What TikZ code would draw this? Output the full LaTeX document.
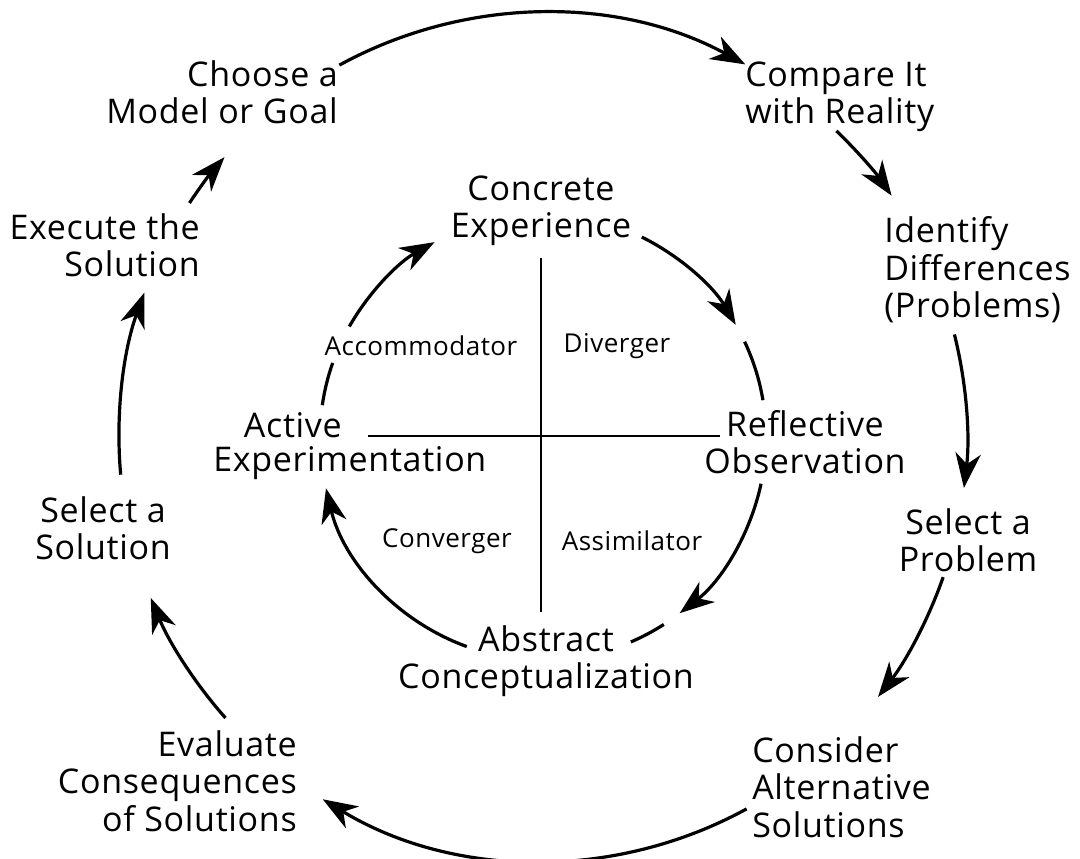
\documentclass[tikz,border=0pt]{standalone}
\usepackage{fontspec}
\setmainfont{Open Sans}[LetterSpace=2]
\usetikzlibrary{arrows.meta}
\begin{document}
\begin{tikzpicture}[x=0.75pt,y=0.75pt,
  stage/.style={inner sep=0pt, font=\fontsize{25.5}{28}\selectfont},
  quad/.style={inner sep=0pt, font=\fontsize{19.5}{22}\selectfont},
  flow/.style={line width=2.4pt, -{Stealth[length=26pt,width=19pt,inset=8pt]}},
  plain/.style={line width=2.4pt},
  axis/.style={line width=2pt}]
\useasboundingbox (0,0) rectangle (1080,-859);

% centre shared by the two cycles
\coordinate (O) at (543,-437);

% outer problem-solving cycle
\node[stage, align=right, anchor=east] (choose)   at (338,-92)  {Choose a\\Model or Goal};
\node[stage, align=left,  anchor=west] (compare)  at (745,-97)  {Compare It\\with Reality};
\node[stage, align=left,  anchor=west] (identify) at (884,-270) {Identify\\Differences\\(Problems)};
\node[stage, align=center]             (selprob)  at (968,-540) {Select a\\Problem};
\node[stage, align=left,  anchor=west] (consider) at (752,-787) {Consider\\Alternative\\Solutions};
\node[stage, align=right, anchor=east] (evaluate) at (297,-781) {Evaluate\\Consequences\\of Solutions};
\node[stage, align=center]             (selsol)   at (103,-528) {Select a\\Solution};
\node[stage, align=right, anchor=east] (execute)  at (200,-245) {Execute the\\Solution};

% inner learning cycle
\node[stage, align=center] (concrete)   at (541,-211) {Concrete\\Experience};
\node[stage, align=center] (reflective) at (805,-442) {Reflective\\Observation};
\node[stage, align=center] (abstract)   at (546,-661) {Abstract\\Conceptualization};
\node[stage, anchor=west] (active) at (213,-447)
  {\begin{tabular}{@{}l@{}}\hspace*{23pt}Active\\[-2pt]Experimentation\end{tabular}};

% learning styles
\node[quad] (accom) at (421,-346) {Accommodator};
\node[quad] (diver) at (617,-346) {Diverger};
\node[quad] (conve) at (447,-541) {Converger};
\node[quad] (assim) at (632,-541) {Assimilator};

% quadrant axes
\coordinate (vtop) at (541,-258);
\coordinate (vbot) at (541,-612);
\coordinate (hlft) at (368,-436);
\coordinate (hrgt) at (720,-436);
\draw[axis] (vtop) -- (vbot);
\draw[axis] (hlft) -- (hrgt);

% outer arcs
\draw[flow] (O) ++(118.7:424) arc[start angle=118.7, end angle=61.5, radius=424];
\draw[flow] (O) ++(46.2:424)  arc[start angle=46.2,  end angle=34.7, radius=424];
\draw[flow] (O) ++(14.0:424)  arc[start angle=14.0,  end angle=-6.9, radius=424];
\draw[flow] (O) ++(-19.3:424) arc[start angle=-19.3, end angle=-37.8, radius=424];
\draw[flow] (O) ++(-61.3:424) arc[start angle=-61.3, end angle=-121.3, radius=424];
\draw[flow] (O) ++(-138.5:424) arc[start angle=-138.5, end angle=-157.7, radius=424];
\draw[flow] (O) ++(-174.9:424) arc[start angle=-174.9, end angle=-199.9, radius=424];
\draw[flow] (O) ++(-213.5:424) arc[start angle=-213.5, end angle=-221.3, radius=424];

% inner arcs
\draw[flow]  (O) ++(63.7:223)  arc[start angle=63.7,  end angle=30.2,  radius=223];
\draw[plain] (O) ++(25.3:223)  arc[start angle=25.3,  end angle=9.5,   radius=223];
\draw[flow]  (O) ++(-12.1:223) arc[start angle=-12.1, end angle=-52.2, radius=223];
\draw[plain] (O) ++(-57.2:223) arc[start angle=-57.2, end angle=-66.8, radius=223];
\draw[flow]  (O) ++(-110:223)  arc[start angle=-110,  end angle=-166.7, radius=223];
\draw[plain] (O) ++(-188.2:223) arc[start angle=-188.2, end angle=-199.4, radius=223];
\draw[flow]  (O) ++(-209.7:223) arc[start angle=-209.7, end angle=-240.9, radius=223];
\end{tikzpicture}
\end{document}
